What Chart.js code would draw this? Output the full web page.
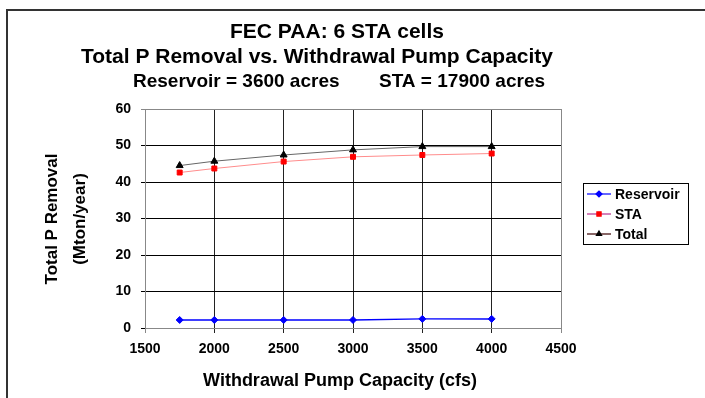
<!DOCTYPE html>
<html>
<head>
<meta charset="utf-8">
<script src="https://cdn.jsdelivr.net/npm/chart.js@4"></script>
<style>
  body { margin: 0; background: #fff; }
  #wrap { position: relative; width: 705px; height: 398px; overflow: hidden; }
  #frame { position: absolute; left: 6px; top: 9px; width: 760px; height: 420px;
           border-left: 2px solid #333; border-top: 2px solid #333; }
  canvas { position: absolute; left: 0; top: 0; }
</style>
</head>
<body>
<div id="wrap">
  <div id="frame"></div>
  <canvas id="chart" width="705" height="398"></canvas>
</div>
<script>
// pump capacity (cfs)
const capacity = [1750, 2000, 2500, 3000, 3500, 4000];
// total P removal (Mton/year)
const reservoir = [2.2, 2.2, 2.2, 2.2, 2.5, 2.5];
const sta = [42.6, 43.7, 45.6, 46.9, 47.4, 47.8];
const total = [44.5, 45.7, 47.4, 48.8, 49.7, 49.7];

const titleLines = ["FEC PAA: 6 STA cells", "Total P Removal vs. Withdrawal Pump Capacity"];
const subtitleLeft = "Reservoir = 3600 acres";
const subtitleRight = "STA = 17900 acres";
const xTitle = "Withdrawal Pump Capacity (cfs)";
const yTitle = ["Total P Removal", "(Mton/year)"];

function pts(ys) {
  return capacity.map((x, i) => ({ x: x, y: ys[i] }));
}

const FONT = "'Liberation Sans', Arial, sans-serif";

// titles, axis titles and the boxed legend
const decorPlugin = {
  id: "decor",
  afterDraw(chart) {
    const ctx = chart.ctx;
    ctx.save();
    ctx.fillStyle = "#000";
    ctx.textBaseline = "middle";

    ctx.textAlign = "center";
    ctx.font = "bold 21px " + FONT;
    ctx.fillText(titleLines[0], 337, 32);
    ctx.fillText(titleLines[1], 317, 57);
    ctx.font = "bold 19px " + FONT;
    ctx.textAlign = "left";
    ctx.fillText(subtitleLeft, 133, 82);
    ctx.fillText(subtitleRight, 379, 82);

    // x axis title
    ctx.textAlign = "center";
    ctx.font = "bold 18px " + FONT;
    ctx.fillText(xTitle, 340, 381);

    // y axis title
    ctx.save();
    ctx.font = "bold 17px " + FONT;
    ctx.translate(52, 219);
    ctx.rotate(-Math.PI / 2);
    ctx.fillText(yTitle[0], 0, 0);
    ctx.fillText(yTitle[1], 0, 28);
    ctx.restore();

    // legend
    ctx.strokeStyle = "#000";
    ctx.lineWidth = 1;
    ctx.strokeRect(583.5, 183.5, 105, 61);
    const rows = [
      { label: "Reservoir", line: "#0000ff", fill: "#0000ff", style: "rectRot", y: 194 },
      { label: "STA", line: "#b8308c", fill: "#ff0000", style: "rect", y: 214 },
      { label: "Total", line: "#3a0000", fill: "#000000", style: "triangle", y: 234 }
    ];
    ctx.font = "bold 14px " + FONT;
    ctx.textAlign = "left";
    rows.forEach(r => {
      ctx.strokeStyle = r.line;
      ctx.lineWidth = 1.2;
      ctx.beginPath();
      ctx.moveTo(587, r.y);
      ctx.lineTo(611, r.y);
      ctx.stroke();
      ctx.fillStyle = r.fill;
      ctx.strokeStyle = r.fill;
      Chart.helpers.drawPoint(ctx, { pointStyle: r.style, radius: 3, borderWidth: 1 }, 599, r.y);
      ctx.fillStyle = "#000";
      ctx.fillText(r.label, 615, r.y + 1);
    });
    ctx.restore();
  }
};

new Chart(document.getElementById("chart"), {
  type: "scatter",
  data: {
    datasets: [
      {
        label: "Reservoir",
        data: pts(reservoir),
        showLine: true,
        borderColor: "#0000ff",
        borderWidth: 1.5,
        backgroundColor: "#0000ff",
        pointStyle: "rectRot",
        pointRadius: 3.5,
        pointBorderWidth: 1
      },
      {
        label: "STA",
        data: pts(sta),
        showLine: true,
        borderColor: "#ff8c8c",
        borderWidth: 1,
        backgroundColor: "#ff0000",
        pointBorderColor: "#ff0000",
        pointStyle: "rect",
        pointRadius: 3.5,
        pointBorderWidth: 1
      },
      {
        label: "Total",
        data: pts(total),
        showLine: true,
        borderColor: "#666666",
        borderWidth: 1,
        backgroundColor: "#000000",
        pointBorderColor: "#000000",
        pointStyle: "triangle",
        pointRadius: 4,
        pointBorderWidth: 1
      }
    ]
  },
  options: {
    responsive: false,
    animation: false,
    layout: { padding: { left: 0, top: 109, right: 144, bottom: 0 } },
    plugins: {
      legend: { display: false },
      title: { display: false },
      tooltip: { enabled: false }
    },
    scales: {
      x: {
        type: "linear",
        min: 1500,
        max: 4500,
        afterFit: s => { s.height = 70; },
        ticks: {
          stepSize: 500,
          color: "#000",
          padding: 8,
          font: { family: FONT, size: 14, weight: "bold" },
          callback: v => String(v)
        },
        grid: {
          color: c => (c.tick && (c.tick.value === 1500 || c.tick.value === 4500)) ? "#888" : "#222",
          lineWidth: 1,
          tickLength: 5
        },
        border: { color: "#888", width: 1 }
      },
      y: {
        min: 0,
        max: 60,
        afterFit: s => { s.width = 145; },
        ticks: {
          stepSize: 10,
          color: "#000",
          padding: 10,
          font: { family: FONT, size: 14, weight: "bold" }
        },
        grid: {
          color: c => (c.tick && c.tick.value === 60) ? "#888" : "#000",
          lineWidth: 1,
          tickLength: 4
        },
        border: { color: "#888", width: 1 }
      }
    }
  },
  plugins: [decorPlugin]
});
</script>
</body>
</html>
